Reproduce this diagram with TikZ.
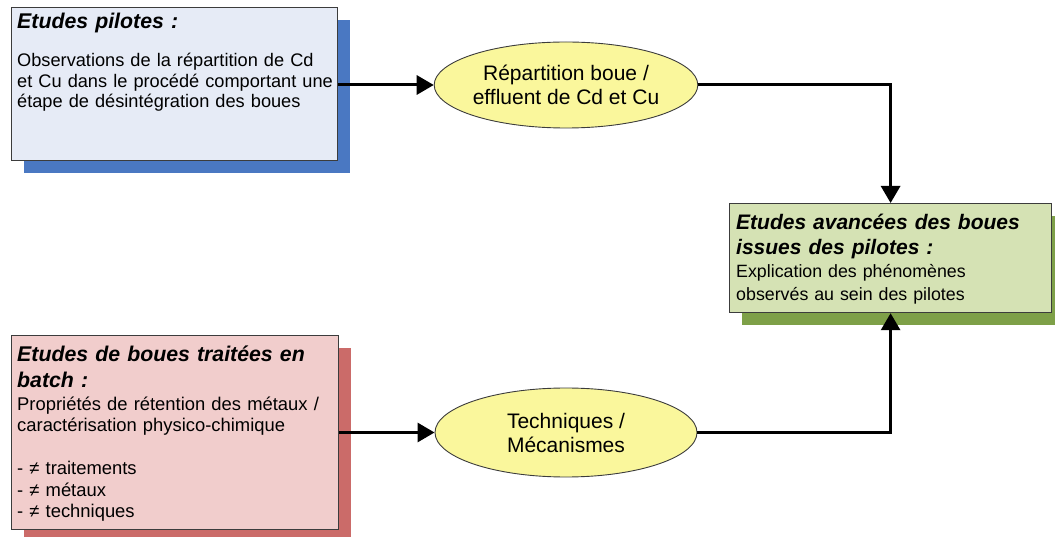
\documentclass[tikz,border=0pt]{standalone}
\usepackage{fontspec}
\setmainfont{Liberation Sans}
\usetikzlibrary{arrows.meta,shapes.geometric}
\definecolor{bluefill}{HTML}{E6EBF6}
\definecolor{blueshadow}{HTML}{4A78C2}
\definecolor{redfill}{HTML}{F1CDCC}
\definecolor{redshadow}{HTML}{CB6B69}
\definecolor{greenfill}{HTML}{D5E2B4}
\definecolor{greenshadow}{HTML}{7EA048}
\definecolor{ellfill}{HTML}{FAF79C}
\definecolor{edge}{HTML}{3C3C3C}
\tikzset{
  frontbox/.style={draw=edge, line width=1.2pt, rectangle, inner sep=0pt, anchor=north west},
  shadowbox/.style={rectangle, inner sep=0pt, anchor=north west},
  hdr/.style={anchor=base west, inner sep=0pt, text width=330pt, align=left,
     font=\fontsize{21.3}{25.5}\selectfont\bfseries\itshape},
  bodytxt/.style={anchor=base west, inner sep=0pt, text width=330pt, align=left,
     font=\fontsize{18.4}{21.5}\selectfont},
  ell/.style={ellipse, draw=edge, line width=0.9pt, fill=ellfill, inner sep=0pt,
     align=center, font=\fontsize{21}{24}\selectfont},
  conn/.style={line width=3pt, draw=black, -{Triangle[width=19pt,length=17pt]}}
}
\begin{document}
\begin{tikzpicture}[x=1pt,y=-1pt]
\useasboundingbox (0,0) rectangle (1055,537);
% Blue box
\node[shadowbox, fill=blueshadow, minimum width=326pt, minimum height=153pt] (pilsh) at (24,20) {};
\node[frontbox, fill=bluefill, minimum width=326pt, minimum height=153pt] (pil) at (11,7) {};
\node[hdr] (pilh) at (17,29) {Etudes pilotes :};
\node[bodytxt, font=\fontsize{18.2}{20.5}\selectfont] (pilb) at (17,67) {Observations de la répartition de Cd\\et Cu dans le procédé comportant une\\étape de désintégration des boues};
% Red box
\node[shadowbox, fill=redshadow, minimum width=327pt, minimum height=194pt] (batsh) at (24,348) {};
\node[frontbox, fill=redfill, minimum width=327pt, minimum height=194pt] (bat) at (11,335) {};
\node[hdr] (bath) at (17,362) {Etudes de boues traitées en\\batch :};
\node[bodytxt] (batb) at (17,410) {Propriétés de rétention des métaux /\\caractérisation physico-chimique\\[21.5pt]- ≠ traitements\\- ≠ métaux\\- ≠ techniques};
% Green box
\node[shadowbox, fill=greenshadow, minimum width=322pt, minimum height=109pt] (ressh) at (742,216) {};
\node[frontbox, fill=greenfill, minimum width=322pt, minimum height=109pt] (res) at (729,203) {};
\node[hdr, font=\fontsize{21}{24.5}\selectfont\bfseries\itshape] (resh) at (736,230) {Etudes avancées des boues\\issues des pilotes :};
\node[bodytxt, font=\fontsize{17.8}{22.5}\selectfont] (resb) at (736,278) {Explication des phénomènes\\observés au sein des pilotes};
% Ellipses
\node[ell, minimum width=262pt, minimum height=86pt] (rep) at (566,85) {Répartition boue /\\effluent de Cd et Cu};
\node[ell, minimum width=262pt, minimum height=89pt] (tech) at (566,432.5) {Techniques /\\Mécanismes};
% Connectors
\draw[conn] (pil.east |- rep.west) -- (rep.west);
\draw[conn] (bat.east |- tech.west) -- (tech.west);
\draw[conn] (rep.east) -| (res.north);
\draw[conn] (tech.east) -| (res.south);
\end{tikzpicture}
\end{document}
